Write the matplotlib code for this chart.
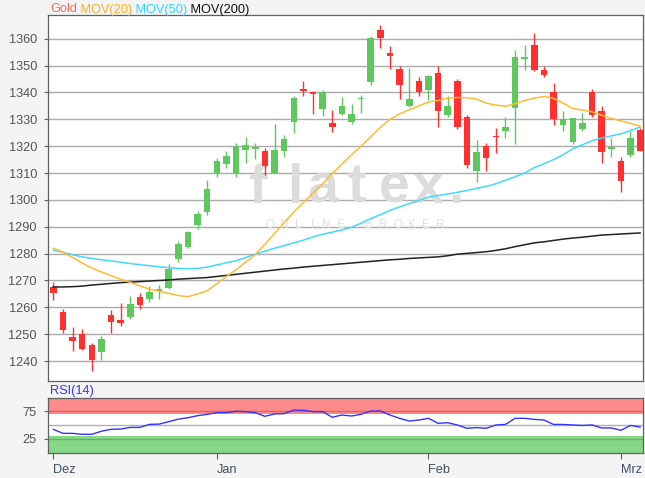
import numpy as np
import matplotlib
matplotlib.use("Agg")
import matplotlib.pyplot as plt

plt.rcParams['font.family'] = ['Liberation Sans', 'DejaVu Sans']

# Gold daily candles, 6 Dec 2017 .. 5 Mar 2018
opens = [1267.5, 1258.3, 1249.0, 1250.2, 1246.0, 1243.4, 1257.1, 1255.2, 1256.5, 1263.7,
         1263.0, 1266.1, 1267.2, 1278.0, 1282.4, 1290.8, 1295.4, 1310.1, 1313.4, 1309.9,
         1318.6, 1319.1, 1318.2, 1310.1, 1318.2, 1328.9, 1341.1, 1340.3, 1333.8, 1328.5,
         1331.9, 1328.8, 1337.5, 1343.7, 1363.4, 1354.7, 1348.7, 1335.0, 1344.3, 1341.0,
         1347.4, 1331.6, 1344.1, 1331.0, 1310.9, 1320.1, 1323.8, 1325.7, 1334.1, 1352.4,
         1357.5, 1348.2, 1340.0, 1328.0, 1321.7, 1326.3, 1340.0, 1333.2, 1318.9, 1314.3,
         1316.6, 1326.0]
highs = [1269.5, 1259.3, 1252.7, 1251.8, 1246.9, 1249.4, 1258.9, 1261.8, 1264.3, 1265.5,
         1268.0, 1268.3, 1276.1, 1284.8, 1288.6, 1295.7, 1307.5, 1315.5, 1318.2, 1321.3,
         1323.3, 1321.3, 1319.2, 1328.2, 1324.2, 1338.7, 1344.1, 1340.6, 1341.0, 1333.5,
         1338.2, 1335.6, 1339.1, 1360.9, 1364.9, 1357.4, 1349.7, 1349.0, 1345.6, 1346.6,
         1349.7, 1338.5, 1345.1, 1331.6, 1322.3, 1321.1, 1326.7, 1330.8, 1355.9, 1357.8,
         1362.1, 1349.7, 1343.5, 1333.2, 1330.6, 1332.3, 1341.2, 1335.1, 1322.9, 1315.8,
         1325.6, 1326.6]
lows = [1262.7, 1250.6, 1243.8, 1244.1, 1236.3, 1240.3, 1250.6, 1253.1, 1255.8, 1259.3,
        1262.0, 1263.0, 1266.8, 1276.8, 1282.0, 1289.0, 1294.5, 1308.6, 1311.7, 1308.4,
        1313.9, 1315.1, 1309.3, 1310.1, 1316.1, 1324.8, 1338.5, 1331.9, 1331.4, 1325.2,
        1331.6, 1328.3, 1332.3, 1342.8, 1356.5, 1348.8, 1337.6, 1334.5, 1338.7, 1337.2,
        1327.3, 1331.0, 1326.3, 1311.7, 1306.8, 1310.9, 1317.3, 1322.9, 1320.8, 1348.4,
        1347.8, 1345.7, 1328.0, 1325.7, 1320.7, 1325.5, 1330.8, 1313.6, 1315.8, 1303.0,
        1315.8, 1318.2]
closes = [1265.2, 1251.5, 1247.5, 1244.6, 1240.6, 1248.1, 1254.6, 1254.3, 1261.4, 1260.8,
          1265.9, 1267.0, 1274.3, 1283.6, 1288.2, 1294.6, 1304.1, 1314.6, 1316.3, 1319.8,
          1320.4, 1319.5, 1312.6, 1318.6, 1322.7, 1337.9, 1340.5, 1339.5, 1340.0, 1327.0,
          1334.8, 1331.9, 1337.9, 1360.2, 1360.2, 1353.4, 1342.8, 1337.5, 1340.3, 1346.0,
          1332.9, 1334.8, 1327.3, 1313.0, 1318.0, 1315.5, 1323.3, 1327.3, 1353.0, 1353.0,
          1348.4, 1346.6, 1330.2, 1330.0, 1330.4, 1328.5, 1331.6, 1318.0, 1319.5, 1307.1,
          1322.9, 1318.2]

mov20 = [1282.0, 1280.5, 1278.6, 1276.5, 1274.6, 1273.2, 1271.8, 1270.5, 1269.3, 1268.0,
         1266.8, 1266.0, 1265.2, 1264.4, 1264.0, 1265.0, 1266.2, 1268.8, 1271.5, 1274.0,
         1276.8, 1279.6, 1283.5, 1287.5, 1291.5, 1295.5, 1299.0, 1302.5, 1306.0, 1309.8,
         1313.3, 1316.8, 1320.0, 1323.5, 1327.0, 1330.0, 1332.0, 1333.5, 1335.0, 1336.4,
         1337.0, 1337.8, 1338.1, 1338.0, 1337.5, 1336.0, 1335.3, 1334.8, 1335.8, 1337.0,
         1337.8, 1338.5, 1337.8, 1336.0, 1334.0, 1333.4, 1332.8, 1331.5, 1330.3, 1329.4,
         1328.5, 1327.4]
mov50 = [1281.3, 1280.5, 1279.6, 1278.8, 1278.2, 1277.7, 1277.3, 1276.8, 1276.3, 1275.9,
         1275.5, 1275.1, 1274.8, 1274.5, 1274.4, 1274.5, 1275.0, 1275.8, 1276.6, 1277.4,
         1278.5, 1279.8, 1280.9, 1282.0, 1283.0, 1284.0, 1285.0, 1286.2, 1287.2, 1288.0,
         1288.8, 1289.8, 1291.3, 1293.0, 1294.5, 1296.1, 1297.4, 1298.6, 1299.8, 1301.0,
         1301.6, 1302.2, 1302.8, 1303.5, 1304.3, 1305.0, 1306.0, 1307.3, 1308.6, 1310.0,
         1312.0, 1313.4, 1315.0, 1316.8, 1319.0, 1320.5, 1322.0, 1323.0, 1323.8, 1324.6,
         1325.8, 1327.1]
mov200 = [1267.6, 1267.6, 1267.7, 1267.9, 1268.3, 1268.6, 1268.9, 1269.2, 1269.4, 1269.6,
          1269.8, 1270.0, 1270.2, 1270.5, 1270.7, 1270.9, 1271.1, 1271.5, 1271.9, 1272.3,
          1272.7, 1273.1, 1273.5, 1273.9, 1274.3, 1274.6, 1275.0, 1275.3, 1275.6, 1275.9,
          1276.2, 1276.5, 1276.8, 1277.1, 1277.4, 1277.7, 1277.9, 1278.2, 1278.4, 1278.6,
          1278.8, 1279.2, 1279.8, 1280.1, 1280.4, 1280.7, 1281.2, 1281.8, 1282.6, 1283.3,
          1284.0, 1284.4, 1284.9, 1285.4, 1285.8, 1286.1, 1286.5, 1286.9, 1287.1, 1287.3,
          1287.5, 1287.7]
rsi14 = [42.5, 35.2, 35.2, 33.4, 33.4, 39.0, 42.5, 43.0, 46.0, 46.0,
         51.5, 52.0, 56.4, 61.0, 63.6, 67.3, 69.8, 72.7, 73.0, 75.3,
         74.7, 72.7, 66.2, 70.4, 71.0, 77.6, 77.0, 74.7, 74.7, 64.4,
         68.5, 66.7, 69.8, 75.8, 75.8, 68.5, 62.5, 57.6, 59.4, 62.5,
         53.4, 54.5, 50.4, 44.4, 45.6, 44.4, 50.4, 51.4, 62.5, 62.5,
         60.6, 59.4, 51.4, 51.4, 50.4, 49.6, 50.4, 45.0, 45.0, 40.7,
         49.6, 46.5]

month_pos = [0, 17, 39, 59]
month_labels = ['Dez', 'Jan', 'Feb', 'Mrz']
price_ticks = list(range(1240, 1361, 10))

UP = '#5ec85e'
DOWN = '#ff3030'
BG = '#f4f4f4'
FRAME = '#606060'
FS = 9.2

fig = plt.figure(figsize=(6.45, 4.78), dpi=100, facecolor=BG)
ax = fig.add_axes([48/645, 1-381/478, 595/645, 366/478])
ax2 = fig.add_axes([48/645, 1-452.7/478, 595/645, 55/478])

x = np.arange(len(opens))
o = np.array(opens); c = np.array(closes)
h = np.array(highs); l = np.array(lows)
up = c >= o
cols = np.where(up, UP, DOWN)

# watermark
for ch, px in zip('flatex.', [258, 295, 323, 357, 394, 428, 456]):
    ax.text((px-48)/595, 0.525, ch, transform=ax.transAxes, fontsize=40,
            fontweight='bold', color='#dcdcdc', ha='center', va='center', zorder=1)
for i, ch in enumerate('ONLINE BROKER'):
    ax.text((270 + i*14.2 - 48)/595, 0.425, ch, transform=ax.transAxes, fontsize=8.5,
            color='#e0e0e0', ha='center', va='center', zorder=1)

ax.vlines(x, l, h, colors=cols, linewidth=1.0, zorder=3)
body = np.maximum(np.abs(c - o), 0.45)
ax.bar(x, body, bottom=np.minimum(o, c), width=0.68, color=cols, linewidth=0, zorder=4)

ax.plot(x, mov200, color='#222222', lw=1.1, zorder=5)
ax.plot(x, mov50, color='#44d8ff', lw=1.1, zorder=5)
ax.plot(x, mov20, color='#ffbb33', lw=1.1, zorder=5)

ax.set_xlim(-0.55, 61.3)
ax.set_ylim(1232.6, 1368.8)
ax.set_yticks(price_ticks)
ax.set_xticks([])
ax.yaxis.grid(True, color='#ababab', lw=1.0, zorder=0)
ax.set_axisbelow(True)
ax.tick_params(axis='y', length=3, width=0.8, color=FRAME, pad=5, labelsize=FS, labelcolor='#555555')
ax.set_facecolor('white')
for s in ax.spines.values():
    s.set_color(FRAME); s.set_linewidth(0.9)

# RSI panel
ax2.axhspan(70, 100, color='#ff8a8a', lw=0, zorder=1)
ax2.axhspan(0, 30, color='#86d886', lw=0, zorder=1)
ax2.axhline(75, color='#e06666', lw=1.0, zorder=2)
ax2.axhline(25, color='#5fb65f', lw=1.0, zorder=2)
ax2.axhline(50, color='#b0b0b0', lw=1.0, zorder=2)
ax2.plot(x, rsi14, color='#3333ff', lw=1.0, zorder=3)
ax2.set_xlim(-0.55, 61.3)
ax2.set_ylim(0, 100)
ax2.set_yticks([25, 75])
ax2.set_xticks(month_pos)
ax2.set_xticklabels(month_labels, ha='left')
ax2.tick_params(axis='y', length=3, width=0.8, color=FRAME, pad=5, labelsize=FS, labelcolor='#555555')
ax2.tick_params(axis='x', length=4, width=0.8, color=FRAME, pad=4, labelsize=FS, labelcolor='#3e4e60')
ax2.set_facecolor('white')
for s in ax2.spines.values():
    s.set_color(FRAME); s.set_linewidth(0.9)

# legend line on top
r = fig.canvas.get_renderer()
xpos = 50/645
for txt, col in [('Gold', '#ff6a55'), (' MOV(20)', '#ffb020'), (' MOV(50)', '#33d6ff'), (' MOV(200)', '#111111')]:
    t = fig.text(xpos, 1-12.5/478, txt, color=col, fontsize=FS, ha='left', va='baseline')
    bb = t.get_window_extent(renderer=r)
    xpos += bb.width / fig.bbox.width
fig.text(50/645, 1-394/478, 'RSI(14)', color='#3333ff', fontsize=FS, ha='left', va='baseline')

fig.savefig('out.png', dpi=100, facecolor=BG)
